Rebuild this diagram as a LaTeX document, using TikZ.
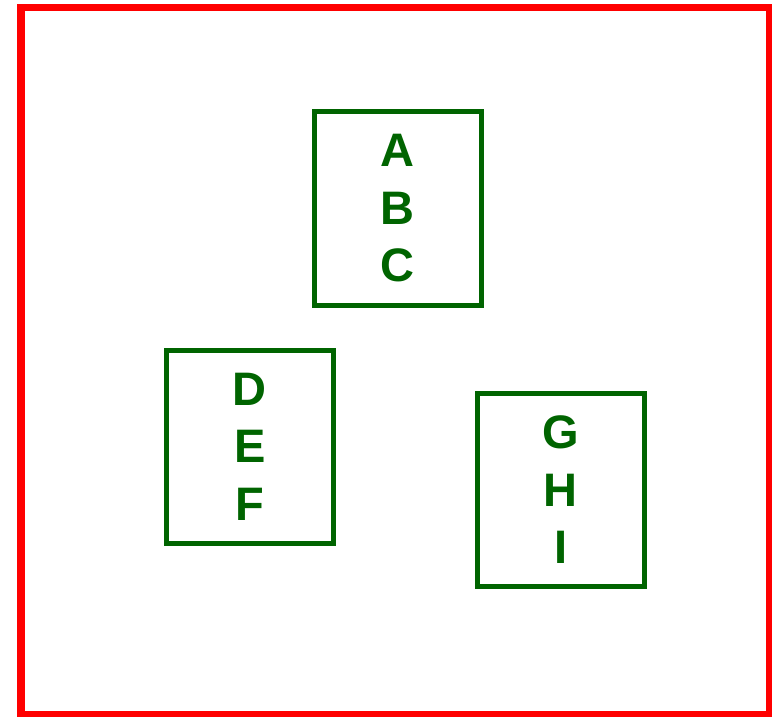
\documentclass[tikz,border=0pt]{standalone}
\usepackage{fontspec}
\setmainfont{Liberation Sans}
\definecolor{boxgreen}{RGB}{0,100,0}
\definecolor{framered}{RGB}{255,0,0}
\begin{document}
\begin{tikzpicture}[x=1pt,y=-1pt,
  letterbox/.style={draw=boxgreen, line width=5pt, text=boxgreen,
    minimum width=167.5pt, minimum height=193.5pt, inner sep=0pt,
    align=center, font=\fontsize{47}{57.5}\selectfont\bfseries}]
\useasboundingbox (0,0) rectangle (772,716);
\draw[framered, line width=7.5pt] (21,7.5) rectangle (770,715);
\node[letterbox] (abc) at (397.75,208.5) {A\\B\\C};
\node[letterbox] (def) at (249.75,446.75) {D\\E\\F};
\node[letterbox] (ghi) at (560.75,489.75) {G\\H\\I};
\end{tikzpicture}
\end{document}
